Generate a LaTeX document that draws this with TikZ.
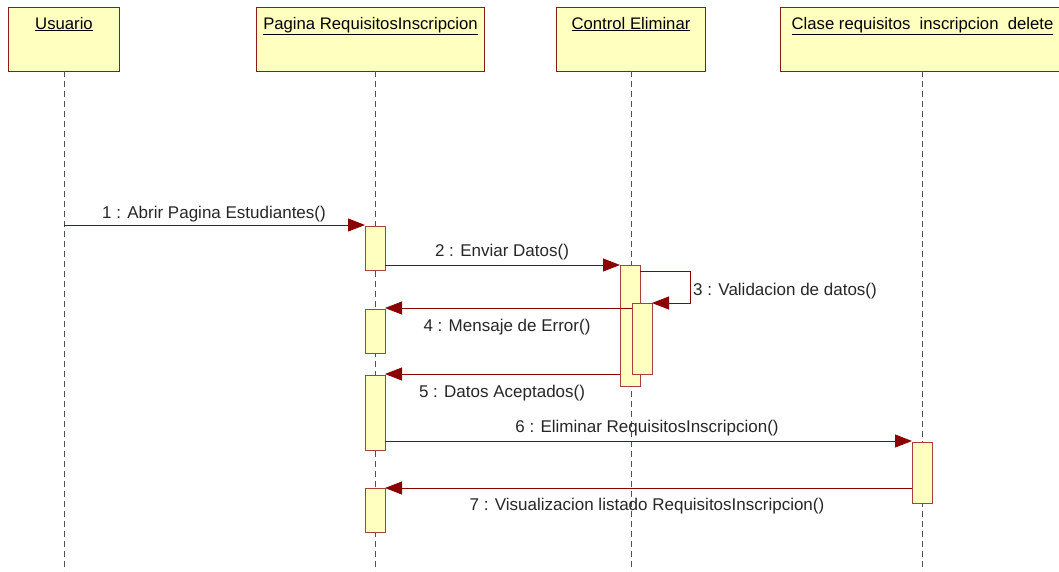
\documentclass[tikz,border=0pt]{standalone}
\usepackage{fontspec}
\setmainfont{Liberation Sans}
\usetikzlibrary{arrows.meta}
\definecolor{boxfill}{HTML}{FFFFC0}
\definecolor{boxline}{HTML}{8B1A1A}
\definecolor{actline}{HTML}{A84040}
\definecolor{msgcol}{HTML}{8B0000}
\definecolor{lifecol}{HTML}{505050}
\begin{document}
\begin{tikzpicture}[x=1pt,y=-1pt,
  obj/.style={draw=boxline, fill=boxfill, line width=1pt, inner xsep=0pt, inner ysep=0pt,
    text height=21.5pt, text depth=42.5pt, anchor=north west, font=\fontsize{16.7}{18}\selectfont},
  act/.style={draw=actline, fill=boxfill, line width=0.9pt, inner sep=0pt, minimum width=20pt, anchor=north west},
  life/.style={draw=lifecol, line width=0.8pt, dash pattern=on 6pt off 4pt},
  msg/.style={draw=msgcol, line width=0.9pt, -{Triangle[length=17pt,width=13pt]}},
  lbl/.style={inner sep=0pt, font=\fontsize{17}{19}\selectfont, text=black!85}
]
\useasboundingbox (0,0) rectangle (1059,571);
\clip (0,0) rectangle (1059,571);
% objects
\node[obj, minimum width=111pt] (usu) at (8,7) {\underline{Usuario}};
\node[obj, minimum width=228pt] (pag) at (256,7) {\underline{Pagina RequisitosInscripcion}};
\node[obj, minimum width=149pt] (ctl) at (556,7) {\underline{Control Eliminar}};
\node[obj, minimum width=284pt] (cla) at (780,7) {\underline{Clase requisitos~ inscripcion~ delete}};
% lifeline ends
\coordinate (usuEnd) at (64,571);
\coordinate (pagEnd) at (375,571);
\coordinate (ctlEnd) at (631,571);
\coordinate (claEnd) at (922,571);
\coordinate (usuTop) at (64,71);
\coordinate (pagTop) at (375,71);
\coordinate (ctlTop) at (631,71);
\coordinate (claTop) at (922,71);
\draw[life] (usuTop) -- (usuEnd);
\draw[life] (pagTop) -- (pagEnd);
\draw[life] (ctlTop) -- (ctlEnd);
\draw[life] (claTop) -- (claEnd);
% activations
\node[act, minimum height=44pt] (p1) at (365,226) {};
\node[act, minimum height=44pt] (p2) at (365,309) {};
\node[act, minimum height=75pt] (p3) at (365,375) {};
\node[act, minimum height=44pt] (p4) at (365,488) {};
\node[act, minimum height=121pt] (c1) at (620,265) {};
\node[act, minimum height=71pt] (c2) at (632,303) {};
\node[act, minimum height=61pt] (k1) at (912,442) {};
% message endpoints
\coordinate (m1s) at (64,225);
\coordinate (m1e) at (365,225);
\coordinate (m2s) at (385,265);
\coordinate (m2e) at (620,265);
\coordinate (m3s) at (640,271);
\coordinate (m3a) at (690,271);
\coordinate (m3b) at (690,303);
\coordinate (m3e) at (652,303);
\coordinate (m4s) at (632,308);
\coordinate (m4e) at (385,308);
\coordinate (m5s) at (620,374);
\coordinate (m5e) at (385,374);
\coordinate (m6s) at (385,441);
\coordinate (m6e) at (912,441);
\coordinate (m7s) at (912,488);
\coordinate (m7e) at (385,488);
\draw[msg] (m1s) -- (m1e);
\draw[msg] (m2s) -- (m2e);
\draw[msg] (m3s) -- (m3a) -- (m3b) -- (m3e);
\draw[msg] (m4s) -- (m4e);
\draw[msg] (m5s) -- (m5e);
\draw[msg] (m6s) -- (m6e);
\draw[msg] (m7s) -- (m7e);
% labels
\node[lbl] (l1) at (214,214) {1 : Abrir Pagina Estudiantes()};
\node[lbl] (l2) at (502,252) {2 : Enviar Datos()};
\node[lbl, anchor=west] (l3) at (693,291) {3 : Validacion de datos()};
\node[lbl] (l4) at (507,327) {4 : Mensaje de Error()};
\node[lbl] (l5) at (502,393) {5 : Datos Aceptados()};
\node[lbl] (l6) at (647,428) {6 : Eliminar RequisitosInscripcion()};
\node[lbl] (l7) at (647,506) {7 : Visualizacion listado RequisitosInscripcion()};
\end{tikzpicture}
\end{document}
